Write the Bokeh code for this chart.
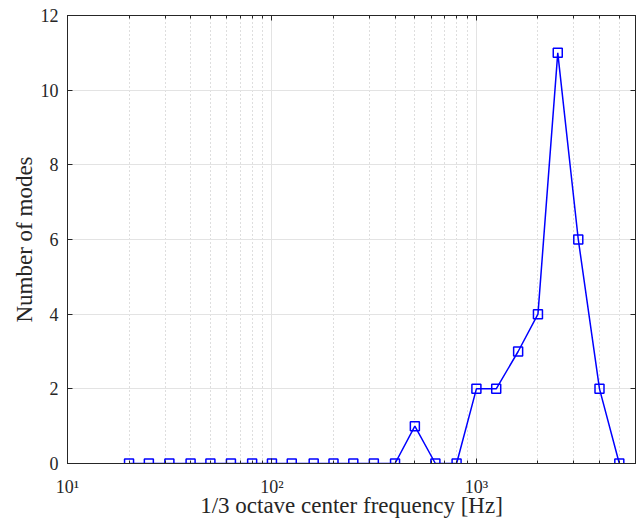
from bokeh.plotting import figure
from bokeh.models import LogAxis, LinearAxis, LogTicker, SingleIntervalTicker
from bokeh.embed import file_html
from bokeh.resources import INLINE

# 1/3 octave centre frequencies [Hz] and number of modes per band
freqs = [20, 25, 31.5, 40, 50, 63, 80, 100, 125, 160, 200, 250, 315, 400,
         500, 630, 800, 1000, 1250, 1600, 2000, 2500, 3150, 4000, 5000]
modes = [0, 0, 0, 0, 0, 0, 0, 0, 0, 0, 0, 0, 0, 0,
         1, 0, 0, 2, 2, 3, 4, 11, 6, 2, 0]

x_tick_labels = {10: "10\u00b9", 100: "10\u00b2", 1000: "10\u00b3"}

FONT = "Liberation Serif"
TXT = "#262626"

p = figure(width=640, height=520, x_axis_type="log",
           x_range=(10, 6000), y_range=(0, 12),
           output_backend="svg", toolbar_location=None,
           min_border_left=67, min_border_right=5,
           min_border_top=15, min_border_bottom=57)

p.background_fill_color = "white"
p.border_fill_color = "white"
p.outline_line_color = TXT
p.outline_line_width = 1

# grids
p.xgrid.grid_line_color = "#e3e3e3"
p.xgrid.minor_grid_line_color = "#bcbcbc"
p.xgrid.minor_grid_line_dash = "1 3"
p.ygrid.grid_line_color = "#e3e3e3"
p.ygrid.ticker = SingleIntervalTicker(interval=2)

# bottom axis
xa = p.xaxis[0]
xa.ticker = LogTicker(num_minor_ticks=10)
xa.major_label_overrides = x_tick_labels
xa.axis_label = "1/3 octave center frequency [Hz]"

# left axis
ya = p.yaxis[0]
ya.ticker = SingleIntervalTicker(interval=2)
ya.axis_label = "Number of modes"

for ax in (xa, ya):
    ax.axis_line_color = TXT
    ax.major_tick_line_color = TXT
    ax.major_tick_in = 5
    ax.major_tick_out = 0
    ax.minor_tick_in = 3
    ax.minor_tick_out = 0
    ax.major_label_text_font = FONT
    ax.major_label_text_font_size = "18px"
    ax.major_label_text_color = TXT
    ax.axis_label_text_font = FONT
    ax.axis_label_text_font_size = "23px"
    ax.axis_label_text_font_style = "normal"
    ax.axis_label_text_color = TXT
xa.minor_tick_line_color = TXT
ya.minor_tick_line_color = None

xa.major_label_standoff = 13
xa.axis_label_standoff = -7
ya.major_label_standoff = 9
ya.axis_label_standoff = 1

# top and right axes: ticks only
top = LogAxis(ticker=LogTicker(num_minor_ticks=10))
right = LinearAxis(ticker=SingleIntervalTicker(interval=2))
for ax in (top, right):
    ax.axis_line_color = TXT
    ax.major_tick_line_color = TXT
    ax.major_tick_in = 5
    ax.major_tick_out = 0
    ax.minor_tick_in = 3
    ax.minor_tick_out = 0
    ax.major_label_text_font_size = "1px"
    ax.major_label_text_color = None
    ax.major_label_standoff = 0
right.minor_tick_line_color = None
top.minor_tick_line_color = TXT
p.add_layout(top, "above")
p.add_layout(right, "right")

p.line(freqs, modes, line_color="#0000ff", line_width=1.5)
p.scatter(freqs, modes, marker="square", size=9, fill_color=None,
          line_color="#0000ff", line_width=1.5)

open("out.html", "w").write(file_html(p, INLINE))
